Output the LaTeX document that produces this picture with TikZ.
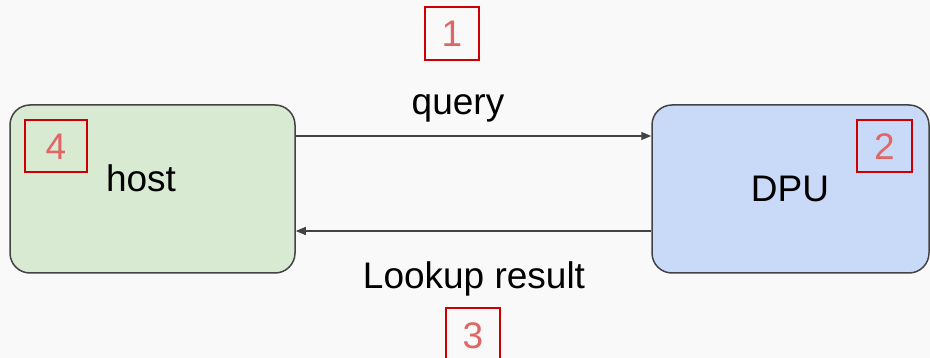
\documentclass[tikz,border=0pt]{standalone}
\usepackage{fontspec}
\setmainfont{Liberation Sans}
\usetikzlibrary{arrows.meta}
\definecolor{bg}{HTML}{F9F9F9}
\definecolor{hostfill}{HTML}{D9EAD3}
\definecolor{dpufill}{HTML}{C9DAF8}
\definecolor{edge}{HTML}{434343}
\definecolor{tagred}{HTML}{CC0000}
\definecolor{tagtext}{HTML}{E06666}
\tikzset{
  unitbox/.style={draw=edge, line width=1.5pt, rounded corners=20pt, inner sep=0pt},
  bigtext/.style={font=\fontsize{37}{42}\selectfont, text=black, inner sep=0pt, anchor=base},
  tagbox/.style={draw=tagred, line width=1.6pt, inner sep=0pt, font=\fontsize{37}{42}\selectfont, text=tagtext, text height=27pt, text depth=0pt},
  arr/.style={draw=edge, line width=1.3pt, -{Triangle[length=10pt,width=8pt]}}
}
\begin{document}
\begin{tikzpicture}[x=1pt,y=-1pt]
\useasboundingbox (0,0) rectangle (930,358);
\fill[bg] (0,0) rectangle (930,358);
\node[unitbox, fill=hostfill, minimum width=285pt, minimum height=168pt] (host) at (152.5,189) {};
\node[unitbox, fill=dpufill, minimum width=277pt, minimum height=168pt] (dpu) at (790.5,189) {};
\node[bigtext] (hostlbl) at (141,192) {host};
\node[bigtext] (dpulbl) at (790,202) {DPU};
\draw[arr] ([yshift=53pt]host.east) -- ([yshift=53pt]host.east -| dpu.west);
\draw[arr] ([yshift=-42pt]dpu.west) -- ([yshift=-42pt]dpu.west -| host.east);
\node[bigtext] (query) at (458,115) {query};
\node[bigtext] (lookup) at (474,289) {Lookup result};
\node[tagbox, minimum width=54pt, minimum height=53pt] (t1) at (452,33.5) {1};
\node[tagbox, minimum width=55pt, minimum height=52pt] (t2) at (884.5,146) {2};
\node[tagbox, minimum width=54pt, minimum height=54pt] (t3) at (473,335) {3};
\node[tagbox, minimum width=62pt, minimum height=52pt] (t4) at (56,146) {4};
\end{tikzpicture}
\end{document}
